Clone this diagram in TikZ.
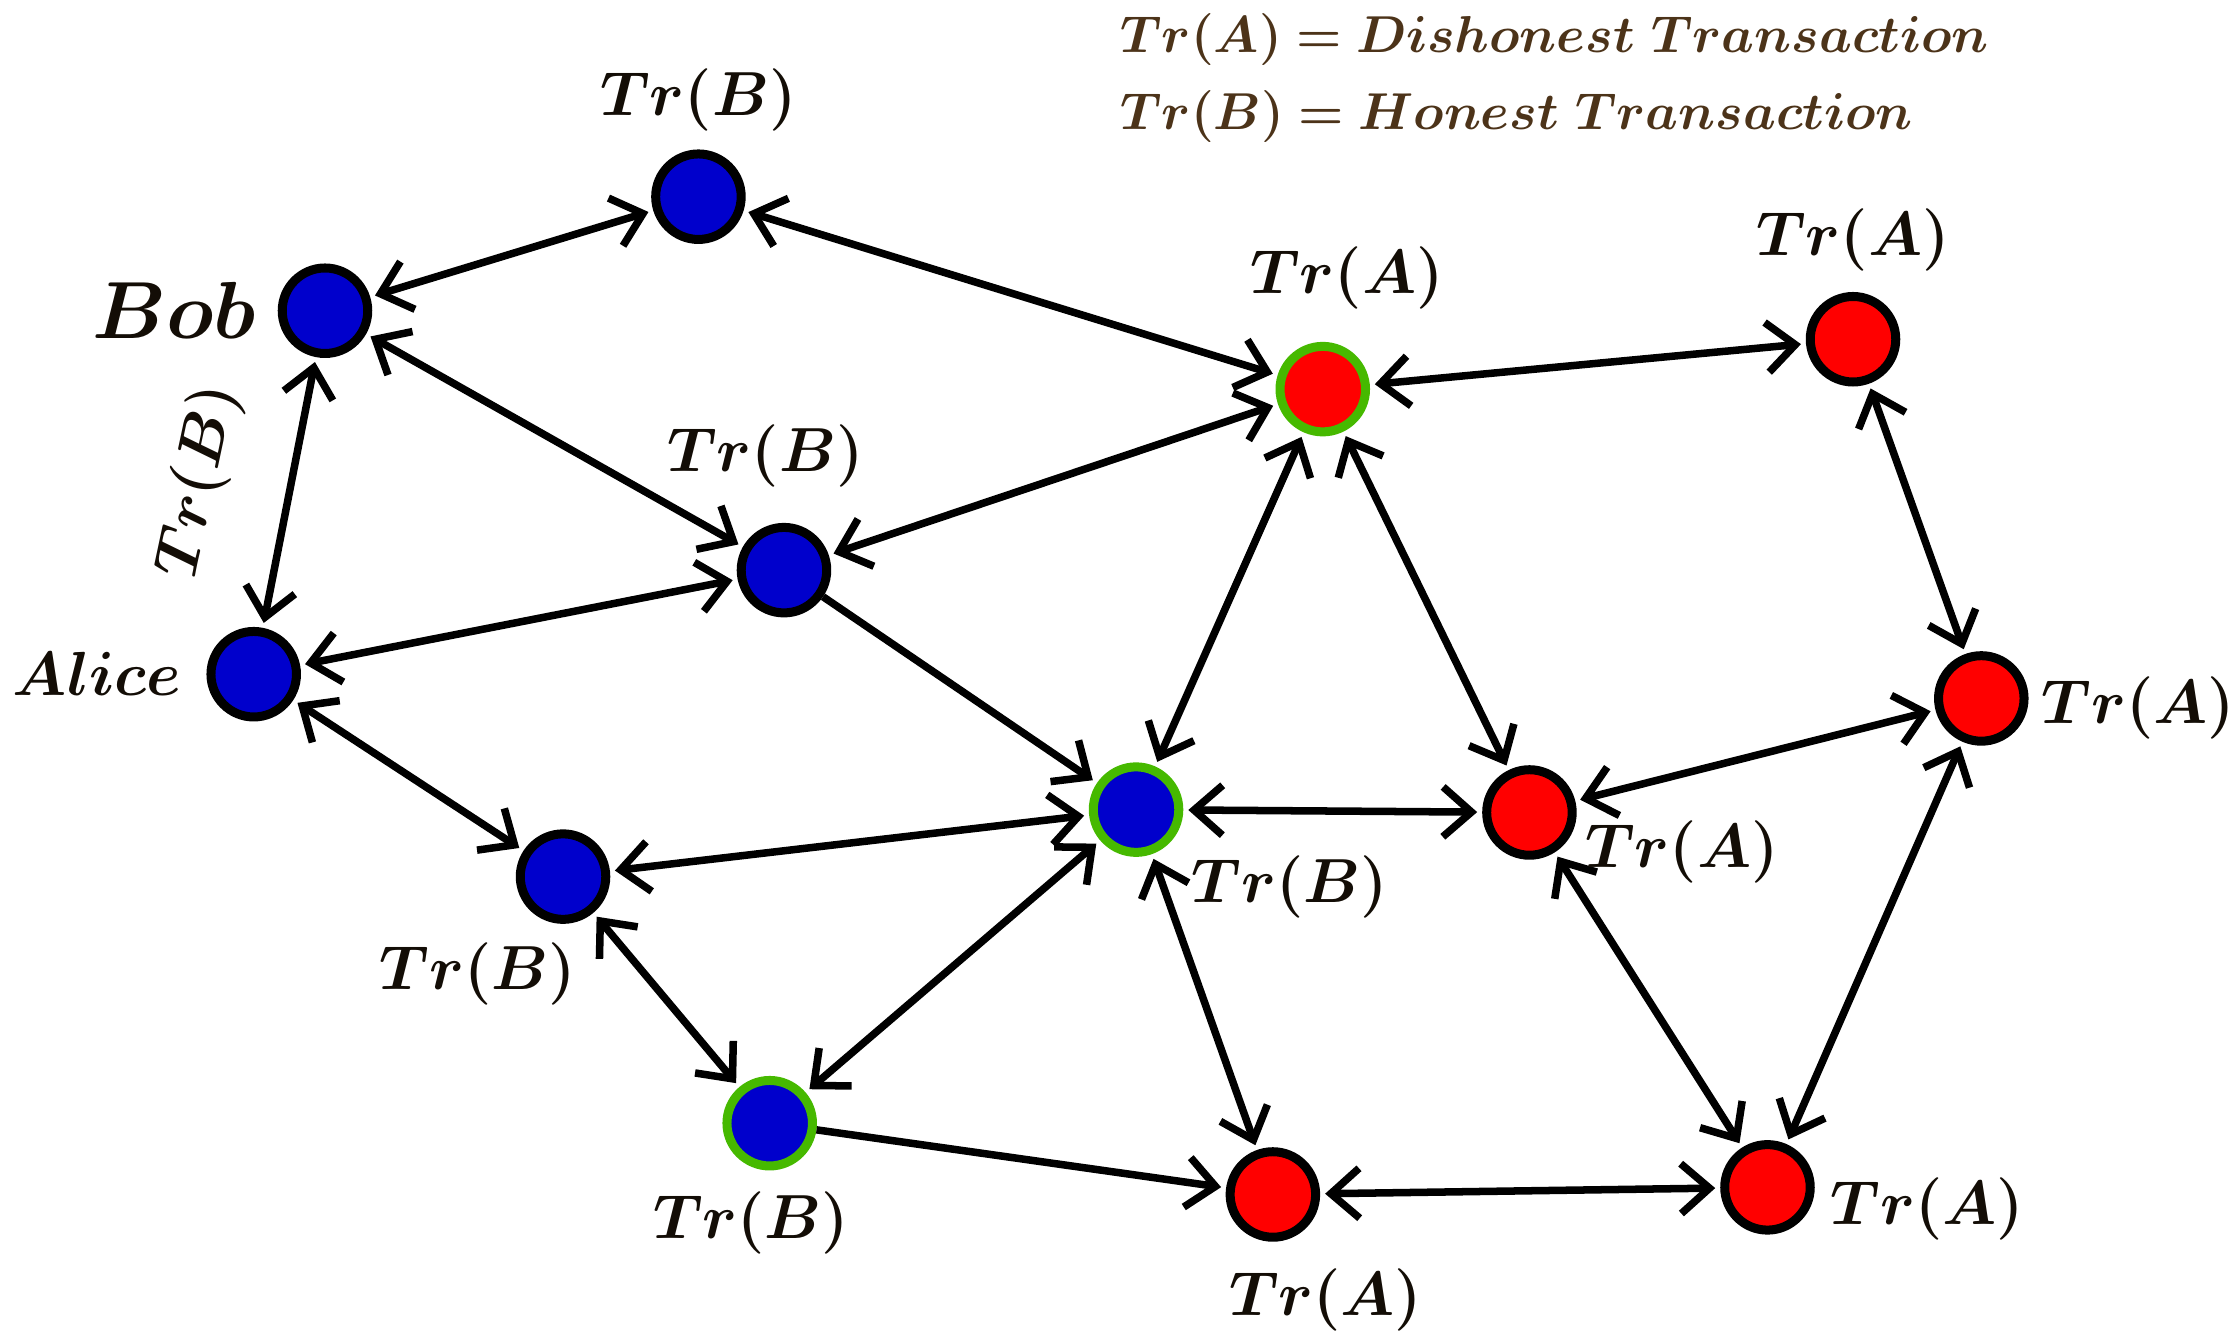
\documentclass[tikz,border=0pt]{standalone}
\usepackage{bm}
\usetikzlibrary{arrows.meta}
\begin{document}
\begin{tikzpicture}[x=0.02cm,y=-0.02cm,
  nd/.style={circle,draw=black,line width=3.6pt,minimum size=1.2cm,inner sep=0pt},
  blue/.style={nd,fill=blue!80!black},
  red/.style={nd,fill=red},
  gb/.style={nd,fill=blue!80!black,draw=green!45!olive},
  gr/.style={nd,fill=red,draw=green!45!olive},
  lab/.style={font=\fontsize{30}{36}\selectfont,text=black!90!brown},
  ed/.style={line width=3pt,-{Straight Barb[length=4mm,width=7mm,line width=3pt]},shorten >=2pt},
  de/.style={ed,{Straight Barb[length=4mm,width=7mm,line width=3pt]}-{Straight Barb[length=4mm,width=7mm,line width=3pt]},shorten <=2pt}]
\useasboundingbox (0,0) rectangle (1568,942);
\node[blue] (b1) at (490,138) {};
\node[blue] (bob) at (228,218) {};
\node[blue] (alice) at (178,473) {};
\node[blue] (m) at (550,400) {};
\node[gb] (c) at (797,568) {};
\node[blue] (l) at (395,615) {};
\node[gb] (g) at (540,788) {};
\node[gr] (r1) at (928,273) {};
\node[red] (r2) at (1300,238) {};
\node[red] (r3) at (1390,490) {};
\node[red] (r4) at (1073,570) {};
\node[red] (r5) at (893,838) {};
\node[red] (r6) at (1240,833) {};
\draw[de] (bob)--(b1);
\draw[de] (b1)--(r1);
\draw[de] (bob)--(alice);
\draw[de] (bob)--(m);
\draw[de] (m)--(r1);
\draw[de] (alice)--(m);
\draw[ed] (m)--(c);
\draw[de] (alice)--(l);
\draw[de] (l)--(c);
\draw[de] (l)--(g);
\draw[de] (c)--(g);
\draw[ed] (g)--(r5);
\draw[de] (c)--(r1);
\draw[de] (c)--(r4);
\draw[de] (c)--(r5);
\draw[de] (r1)--(r4);
\draw[de] (r1)--(r2);
\draw[de] (r2)--(r3);
\draw[de] (r3)--(r4);
\draw[de] (r3)--(r6);
\draw[de] (r4)--(r6);
\draw[de] (r5)--(r6);
\node[lab,rotate=78] (le) at (140,338) {$\bm{Tr(B)}$};
\node[lab] (lb1) at (490,70) {$\bm{Tr(B)}$};
\node[lab] (lbob) at (122,218) {\scalebox{1.3}{$\bm{Bob}$}};
\node[lab] (lal) at (68,473) {$\bm{Alice}$};
\node[lab] (lm) at (537,320) {$\bm{Tr(B)}$};
\node[lab] (lr1) at (945,195) {$\bm{Tr(A)}$};
\node[lab] (lr2) at (1300,168) {$\bm{Tr(A)}$};
\node[lab] (lr3) at (1500,497) {$\bm{Tr(A)}$};
\node[lab] (lr4) at (1180,598) {$\bm{Tr(A)}$};
\node[lab] (lc) at (905,622) {$\bm{Tr(B)}$};
\node[lab] (ll) at (335,683) {$\bm{Tr(B)}$};
\node[lab] (lg) at (527,858) {$\bm{Tr(B)}$};
\node[lab] (lr5) at (930,912) {$\bm{Tr(A)}$};
\node[lab] (lr6) at (1352,848) {$\bm{Tr(A)}$};
\node[lab,font=\fontsize{22}{27}\selectfont,text=black!60!brown,anchor=west] (lg1) at (780,28) {$\bm{Tr(A)=Dishonest\ Transaction}$};
\node[lab,font=\fontsize{22}{27}\selectfont,text=black!60!brown,anchor=west] (lg2) at (780,82) {$\bm{Tr(B)=Honest\ Transaction}$};
\end{tikzpicture}
\end{document}
